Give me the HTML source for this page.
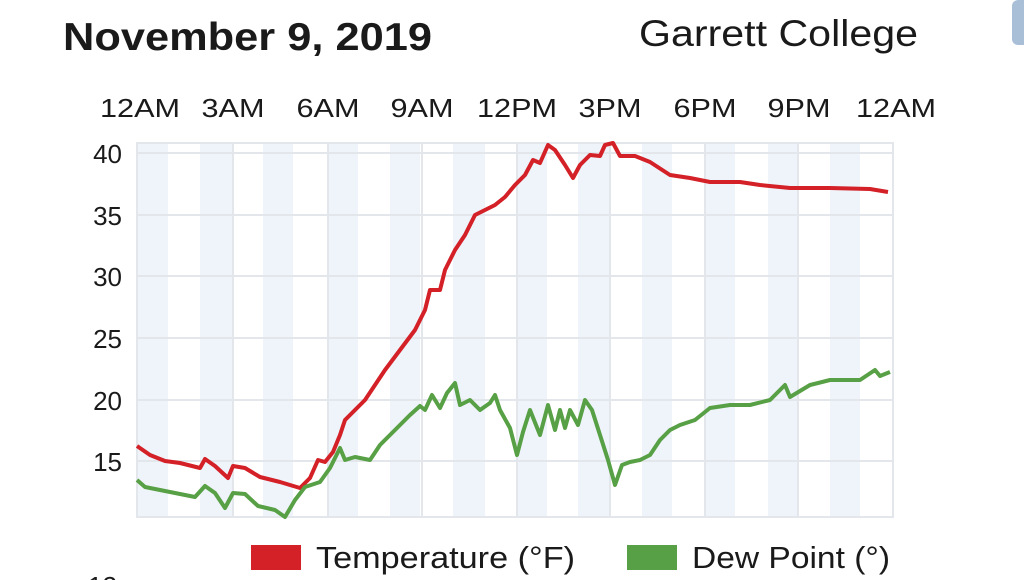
<!DOCTYPE html>
<html><head><style>
body{margin:0;width:1024px;height:580px;background:#fff;overflow:hidden;font-family:"Liberation Sans",sans-serif;position:relative}
</style></head><body>
<div style="position:absolute;left:1012px;top:0;width:20px;height:45px;background:#a9bfd8;border-radius:6px"></div>
<svg width="1024" height="580" style="position:absolute;left:0;top:0" font-family="Liberation Sans, sans-serif">
<text x="63" y="50" font-size="39" font-weight="bold" fill="#1a1a1a" textLength="369" lengthAdjust="spacingAndGlyphs">November 9, 2019</text>
<text x="639" y="46" font-size="37" fill="#1a1a1a" textLength="279" lengthAdjust="spacingAndGlyphs">Garrett College</text>
<g fill="#eef4fa">
<rect x="138" y="143" width="30" height="374"/><rect x="200" y="143" width="32" height="374"/><rect x="263" y="143" width="30" height="374"/><rect x="328" y="143" width="30" height="374"/><rect x="390" y="143" width="30" height="374"/><rect x="453" y="143" width="32" height="374"/><rect x="517" y="143" width="30" height="374"/><rect x="578" y="143" width="32" height="374"/><rect x="642" y="143" width="30" height="374"/><rect x="705" y="143" width="30" height="374"/><rect x="768" y="143" width="30" height="374"/><rect x="830" y="143" width="30" height="374"/>
</g>
<g stroke="#e3e6ea" stroke-width="2" fill="none">
<rect x="137" y="143" width="756" height="374"/>
<line x1="137" x2="893" y1="153" y2="153"/><line x1="137" x2="893" y1="215" y2="215"/><line x1="137" x2="893" y1="276" y2="276"/><line x1="137" x2="893" y1="338" y2="338"/><line x1="137" x2="893" y1="400" y2="400"/><line x1="137" x2="893" y1="461" y2="461"/>
<line x1="233" x2="233" y1="143" y2="517"/><line x1="328" x2="328" y1="143" y2="517"/><line x1="422" x2="422" y1="143" y2="517"/><line x1="517" x2="517" y1="143" y2="517"/><line x1="610" x2="610" y1="143" y2="517"/><line x1="705" x2="705" y1="143" y2="517"/><line x1="798" x2="798" y1="143" y2="517"/>
</g>
<g font-size="26" fill="#1a1a1a" text-anchor="end">
<text x="122" y="163">40</text><text x="122" y="225">35</text><text x="122" y="286">30</text><text x="122" y="348">25</text><text x="122" y="410">20</text><text x="122" y="471">15</text>
</g>
<g font-size="26" fill="#1a1a1a" text-anchor="middle">
<text x="140" y="117" textLength="80" lengthAdjust="spacingAndGlyphs">12AM</text><text x="233" y="117" textLength="63" lengthAdjust="spacingAndGlyphs">3AM</text><text x="328" y="117" textLength="63" lengthAdjust="spacingAndGlyphs">6AM</text><text x="422" y="117" textLength="63" lengthAdjust="spacingAndGlyphs">9AM</text><text x="517" y="117" textLength="80" lengthAdjust="spacingAndGlyphs">12PM</text><text x="610" y="117" textLength="63" lengthAdjust="spacingAndGlyphs">3PM</text><text x="705" y="117" textLength="63" lengthAdjust="spacingAndGlyphs">6PM</text><text x="799" y="117" textLength="63" lengthAdjust="spacingAndGlyphs">9PM</text><text x="896" y="117" textLength="80" lengthAdjust="spacingAndGlyphs">12AM</text>
</g>
<polyline fill="none" stroke="#d42027" stroke-width="4" stroke-linejoin="round" points="137,446 150,455 165,461 180,463 200,468 205,459 215,466 228,478 233,466 245,468 260,477 280,482 300,488 310,478 318,460 325,462 333,452 340,435 345,420 355,410 365,400 375,385 385,370 400,350 415,330 425,310 430,290 440,290 445,270 455,250 465,235 475,215 485,210 495,205 505,197 515,185 525,175 533,160 540,163 548,145 555,150 565,165 573,178 580,165 590,155 600,156 605,145 613,143 620,156 635,156 650,162 670,175 690,178 710,182 740,182 760,185 790,188 830,188 870,189 888,192"/>
<polyline fill="none" stroke="#58a045" stroke-width="4" stroke-linejoin="round" points="137,480 145,487 160,490 175,493 195,497 205,486 215,493 225,508 233,493 245,494 258,506 275,510 285,517 295,500 305,487 320,482 330,468 340,448 345,460 355,457 370,460 380,445 395,430 410,415 420,406 425,410 432,395 440,408 447,393 455,383 460,405 470,400 480,410 490,403 495,395 500,410 510,428 517,455 523,432 530,410 540,435 548,405 555,430 560,410 565,428 570,410 578,425 585,400 592,410 600,435 608,460 615,485 622,465 630,462 640,460 650,455 660,440 670,430 680,425 695,420 710,408 730,405 750,405 770,400 785,385 790,397 810,385 830,380 860,380 875,370 880,376 890,372"/>
<rect x="251" y="545" width="50" height="25" fill="#d42027"/>
<text x="316" y="568" font-size="31" fill="#1a1a1a" textLength="259" lengthAdjust="spacingAndGlyphs">Temperature (°F)</text>
<rect x="627" y="545" width="50" height="25" fill="#58a045"/>
<text x="692" y="568" font-size="31" fill="#1a1a1a" textLength="198" lengthAdjust="spacingAndGlyphs">Dew Point (°)</text>
<text x="88" y="595" font-size="26" fill="#1a1a1a">12</text>
</svg>
</body></html>
